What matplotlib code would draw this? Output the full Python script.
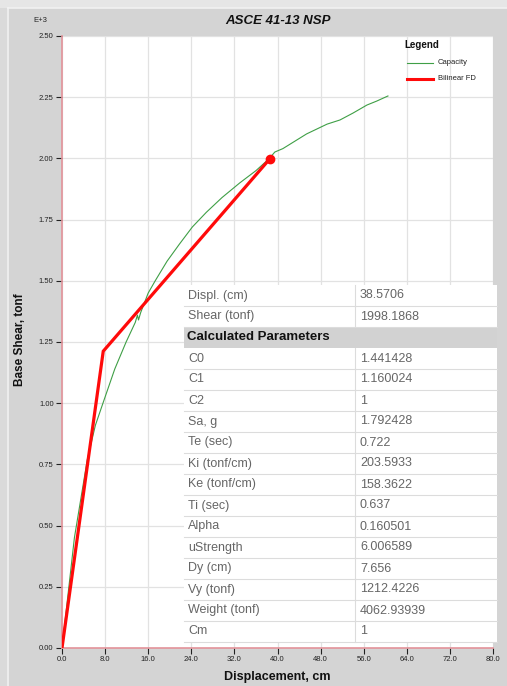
import matplotlib
matplotlib.use('Agg')
import matplotlib.pyplot as plt
from matplotlib.patches import Rectangle
from matplotlib.lines import Line2D

plt.rcParams['font.family'] = ['Liberation Sans', 'DejaVu Sans']

# ---- data (displacement cm, base shear x1000 tonf) ----
cap_disp = [0.0, 2.3, 4.7, 6.2, 7.6, 9.8, 11.9, 13.6, 14.0, 14.2, 14.6, 16.0, 17.3,
            19.5, 21.8, 24.2, 26.8, 29.7, 33.0, 36.0, 38.5, 39.5, 41.0, 45.4, 49.2,
            51.6, 54.0, 56.6, 58.4, 60.5]
cap_shear = [0.0, 0.45, 0.77, 0.91, 1.0, 1.14, 1.25, 1.33, 1.36, 1.34, 1.37, 1.45, 1.5,
             1.58, 1.65, 1.72, 1.78, 1.84, 1.90, 1.95, 2.0, 2.026, 2.04, 2.10, 2.14,
             2.157, 2.185, 2.218, 2.234, 2.255]
bil_disp = [0.0, 7.656, 38.5706]
bil_shear = [0.0, 1.2124226, 1.9981868]

table_top_labels = ['Displ. (cm)', 'Shear (tonf)']
table_top_values = ['38.5706', '1998.1868']
table_header = 'Calculated Parameters'
table_labels = ['C0', 'C1', 'C2', 'Sa, g', 'Te (sec)', 'Ki (tonf/cm)', 'Ke (tonf/cm)',
                'Ti (sec)', 'Alpha', 'uStrength', 'Dy (cm)', 'Vy (tonf)',
                'Weight (tonf)', 'Cm']
table_values = ['1.441428', '1.160024', '1', '1.792428', '0.722', '203.5933', '158.3622',
                '0.637', '0.160501', '6.006589', '7.656', '1212.4226', '4062.93939', '1']

x_ticks = [0, 8, 16, 24, 32, 40, 48, 56, 64, 72, 80]
y_ticks = [0.0, 0.25, 0.5, 0.75, 1.0, 1.25, 1.5, 1.75, 2.0, 2.25, 2.5]

W, H = 507, 686


def fx(x):
    return x / W


def fy(y):
    return 1 - y / H


fig = plt.figure(figsize=(W / 100, H / 100), dpi=100, facecolor='#d4d4d4')

# window frame
fig.add_artist(Rectangle((0, fy(8)), 1, 8 / H, transform=fig.transFigure,
                         facecolor='#e6e6e6', edgecolor='none'))
fig.add_artist(Rectangle((0, 0), fx(7), fy(8), transform=fig.transFigure,
                         facecolor='#dadada', edgecolor='none'))
fig.add_artist(Line2D([fx(7.5), fx(7.5)], [0, fy(8)], transform=fig.transFigure,
                      color='#f2f2f2', lw=1.2))
fig.add_artist(Line2D([fx(7.5), 1], [fy(8), fy(8)], transform=fig.transFigure,
                      color='#f2f2f2', lw=1.2))

ax = fig.add_axes([fx(62), fy(648), fx(493) - fx(62), fy(36) - fy(648)])
ax.set_facecolor('white')
ax.set_xlim(0, 80)
ax.set_ylim(0, 2.5)
ax.set_xticks(x_ticks)
ax.set_xticklabels([f'{v:.1f}' for v in x_ticks])
ax.set_yticks(y_ticks)
ax.set_yticklabels([f'{v:.2f}' for v in y_ticks])
ax.tick_params(axis='both', labelsize=5.5, colors='#222222', length=4, width=0.8, pad=2)
ax.grid(True, color='#e2e2e2', lw=0.9)
ax.set_axisbelow(True)
for s in ['top', 'right']:
    ax.spines[s].set_visible(False)
ax.spines['left'].set_color('#e3939a')
ax.spines['bottom'].set_color('#e3939a')
ax.spines['left'].set_linewidth(1.2)
ax.spines['bottom'].set_linewidth(1.2)

ax.plot(cap_disp, cap_shear, color='#3f9f46', lw=0.8, zorder=3)
ax.plot(bil_disp, bil_shear, color='#ff0a0a', lw=2.3, zorder=4, solid_joinstyle='miter')
ax.plot(bil_disp[-1], bil_shear[-1], 'o', color='#ff0a0a', ms=6, zorder=5)

# titles / labels
fig.text(fx(278), fy(21), 'ASCE 41-13 NSP', ha='center', va='center',
         fontsize=9.5, fontweight='bold', style='italic', color='#111111')
fig.text(fx(40), fy(20), 'E+3', ha='center', va='center', fontsize=5.5, color='#222222')
fig.text(fx(277), fy(677), 'Displacement, cm', ha='center', va='center',
         fontsize=9, fontweight='bold', color='#111111')
fig.text(fx(20), fy(340), 'Base Shear, tonf', ha='center', va='center', rotation=90,
         fontsize=8.5, fontweight='bold', color='#111111')

# legend
fig.text(fx(404), fy(45), 'Legend', ha='left', va='center', fontsize=7,
         fontweight='bold', color='#111111')
fig.add_artist(Line2D([fx(407), fx(433)], [fy(63), fy(63)], transform=fig.transFigure,
                      color='#3f9f46', lw=0.8))
fig.add_artist(Line2D([fx(407), fx(433)], [fy(79), fy(79)], transform=fig.transFigure,
                      color='#ff0a0a', lw=2.2))
fig.text(fx(438), fy(63), 'Capacity', ha='left', va='center', fontsize=5.5, color='#222222')
fig.text(fx(438), fy(79), 'Bilinear FD', ha='left', va='center', fontsize=5.5, color='#222222')

# parameter table
tx0, tx1, tdiv = 184, 497, 355
ttop, rh = 285, 21.0
rows = ([(l, v, False) for l, v in zip(table_top_labels, table_top_values)]
        + [(table_header, '', True)]
        + [(l, v, False) for l, v in zip(table_labels, table_values)])
for i, (lab, val, head) in enumerate(rows):
    y0 = ttop + i * rh
    fig.add_artist(Rectangle((fx(tx0), fy(y0 + rh)), fx(tx1) - fx(tx0), rh / H,
                             transform=fig.transFigure,
                             facecolor='#d2d2d2' if head else 'white',
                             edgecolor='none', zorder=6))
    if not head:
        fig.add_artist(Line2D([fx(tx0), fx(tx1)], [fy(y0 + rh), fy(y0 + rh)],
                              transform=fig.transFigure, color='#dcdcdc', lw=0.8, zorder=7))
        fig.add_artist(Line2D([fx(tdiv), fx(tdiv)], [fy(y0), fy(y0 + rh)],
                              transform=fig.transFigure, color='#dcdcdc', lw=0.8, zorder=7))
        fig.text(fx(188), fy(y0 + rh / 2), lab, ha='left', va='center', fontsize=9,
                 color='#666666', zorder=8)
        fig.text(fx(360), fy(y0 + rh / 2), val, ha='left', va='center', fontsize=9,
                 color='#666666', zorder=8)
    else:
        fig.text(fx(187), fy(y0 + rh / 2), lab, ha='left', va='center', fontsize=9.5,
                 fontweight='bold', color='#111111', zorder=8)

fig.savefig('out.png', dpi=100, facecolor=fig.get_facecolor())
